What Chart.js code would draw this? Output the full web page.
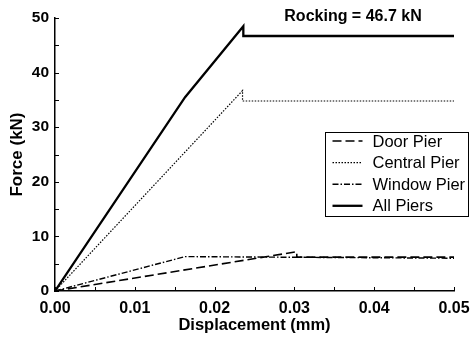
<!DOCTYPE html>
<html lang="en">
<head>
  <meta charset="UTF-8">
  <title>Force vs Displacement</title>
  <script src="https://cdn.jsdelivr.net/npm/chart.js"></script>
  <style>
    html, body { margin: 0; padding: 0; background: #fff; }
    #wrap { width: 472px; height: 339px; }
  </style>
</head>
<body>
  <div id="wrap"><canvas id="grafica" width="472" height="339"></canvas></div>

  <script>
    // Datos
    const doorX = [0, 0.0303, 0.0303, 0.05];
    const doorY = [0, 7.2, 6.2, 6.2];
    const centralX = [0, 0.0235, 0.0235, 0.05];
    const centralY = [0, 36.7, 34.8, 34.8];
    const windowX = [0, 0.0163, 0.05];
    const windowY = [0, 6.3, 6.0];
    const allX = [0, 0.0163, 0.0236, 0.0236, 0.05];
    const allY = [0, 35.5, 48.5, 46.7, 46.7];

    const seriesNames = ['Door Pier', 'Central Pier', 'Window Pier', 'All Piers'];
    const xTicks = [0, 0.01, 0.02, 0.03, 0.04, 0.05];
    const yTicks = [0, 10, 20, 30, 40, 50];
    const rockingLabel = 'Rocking = 46.7 kN';

    const FONT = '"Liberation Sans", Arial, sans-serif';

    function pts(xs, ys) {
      return xs.map((x, i) => ({ x: x, y: ys[i] }));
    }

    const extras = {
      id: 'extras',
      afterDraw(chart) {
        const ctx = chart.ctx;
        const xs = chart.scales.x, ys = chart.scales.y;
        const area = chart.chartArea;
        ctx.save();
        ctx.strokeStyle = '#000';
        ctx.lineWidth = 1;
        // marcas hacia dentro
        for (let v = 0; v <= 50.001; v += 5) {
          const py = Math.round(ys.getPixelForValue(v)) + 0.5;
          ctx.beginPath();
          ctx.moveTo(area.left, py);
          ctx.lineTo(area.left + 4, py);
          ctx.stroke();
        }
        for (let v = 0; v <= 0.05001; v += 0.005) {
          const px = Math.round(xs.getPixelForValue(v)) + 0.5;
          ctx.beginPath();
          ctx.moveTo(px, area.bottom);
          ctx.lineTo(px, area.bottom - 4);
          ctx.stroke();
        }

        // texto de rocking
        ctx.fillStyle = '#000';
        ctx.font = 'bold 16px ' + FONT;
        ctx.textAlign = 'center';
        ctx.textBaseline = 'alphabetic';
        ctx.fillText(rockingLabel, 353, 21);

        // leyenda
        const bx = 325.5, by = 132.5, bw = 143, bh = 84;
        ctx.fillStyle = '#fff';
        ctx.fillRect(bx, by, bw, bh);
        ctx.strokeRect(bx, by, bw, bh);
        ctx.font = '16.5px ' + FONT;
        ctx.textAlign = 'left';
        ctx.textBaseline = 'middle';
        chart.data.datasets.forEach((ds, i) => {
          const cy = by + 8.5 + i * 21.6;
          ctx.save();
          ctx.strokeStyle = '#000';
          ctx.lineWidth = ds.borderWidth;
          ctx.setLineDash(ds.borderDash || []);
          ctx.beginPath();
          ctx.moveTo(bx + 7, cy);
          ctx.lineTo(bx + 37, cy);
          ctx.stroke();
          ctx.restore();
          ctx.fillStyle = '#000';
          ctx.fillText(ds.label, bx + 47, cy + 1);
        });
        ctx.restore();
      }
    };

    const ctx = document.getElementById('grafica').getContext('2d');
    new Chart(ctx, {
      type: 'scatter',
      data: {
        datasets: [
          { label: seriesNames[0], data: pts(doorX, doorY), borderColor: '#000', borderWidth: 1.6, borderDash: [9, 4] },
          { label: seriesNames[1], data: pts(centralX, centralY), borderColor: '#000', borderWidth: 1.2, borderDash: [1.5, 1.5] },
          { label: seriesNames[2], data: pts(windowX, windowY), borderColor: '#000', borderWidth: 1.4, borderDash: [6, 2, 1.5, 2] },
          { label: seriesNames[3], data: pts(allX, allY), borderColor: '#000', borderWidth: 2.3 }
        ].map(d => Object.assign(d, { showLine: true, pointRadius: 0, fill: false, tension: 0 }))
      },
      options: {
        responsive: false,
        animation: false,
        layout: { padding: { left: 0, right: 18, top: 18, bottom: 0 } },
        plugins: {
          legend: { display: false },
          tooltip: { enabled: false }
        },
        scales: {
          x: {
            type: 'linear',
            min: 0,
            max: 0.05,
            afterBuildTicks: s => { s.ticks = xTicks.map(v => ({ value: v })); },
            afterFit: s => { s.height = 48; s.paddingLeft = 0; s.paddingRight = 0; },
            grid: { display: false, drawTicks: false },
            border: { display: true, color: '#000', width: 1.5 },
            ticks: {
              color: '#000',
              padding: 8,
              maxRotation: 0,
              font: { family: FONT, size: 16, weight: 'bold' },
              callback: v => v.toFixed(2)
            },
            title: {
              display: true,
              text: 'Displacement (mm)',
              color: '#000',
              padding: { top: 0, bottom: 4 },
              font: { family: FONT, size: 16.5, weight: 'bold' }
            }
          },
          y: {
            min: 0,
            max: 50,
            afterBuildTicks: s => { s.ticks = yTicks.map(v => ({ value: v })); },
            afterFit: s => { s.width = 55; s.paddingTop = 0; s.paddingBottom = 0; },
            grid: { display: false, drawTicks: false },
            border: { display: true, color: '#000', width: 1.5 },
            ticks: {
              color: '#000',
              padding: 6,
              font: { family: FONT, size: 15.5, weight: 'bold' }
            },
            title: {
              display: true,
              text: 'Force (kN)',
              color: '#000',
              padding: { top: 7, bottom: 0 },
              font: { family: FONT, size: 17, weight: 'bold' }
            }
          }
        }
      },
      plugins: [extras]
    });
  </script>
</body>
</html>
